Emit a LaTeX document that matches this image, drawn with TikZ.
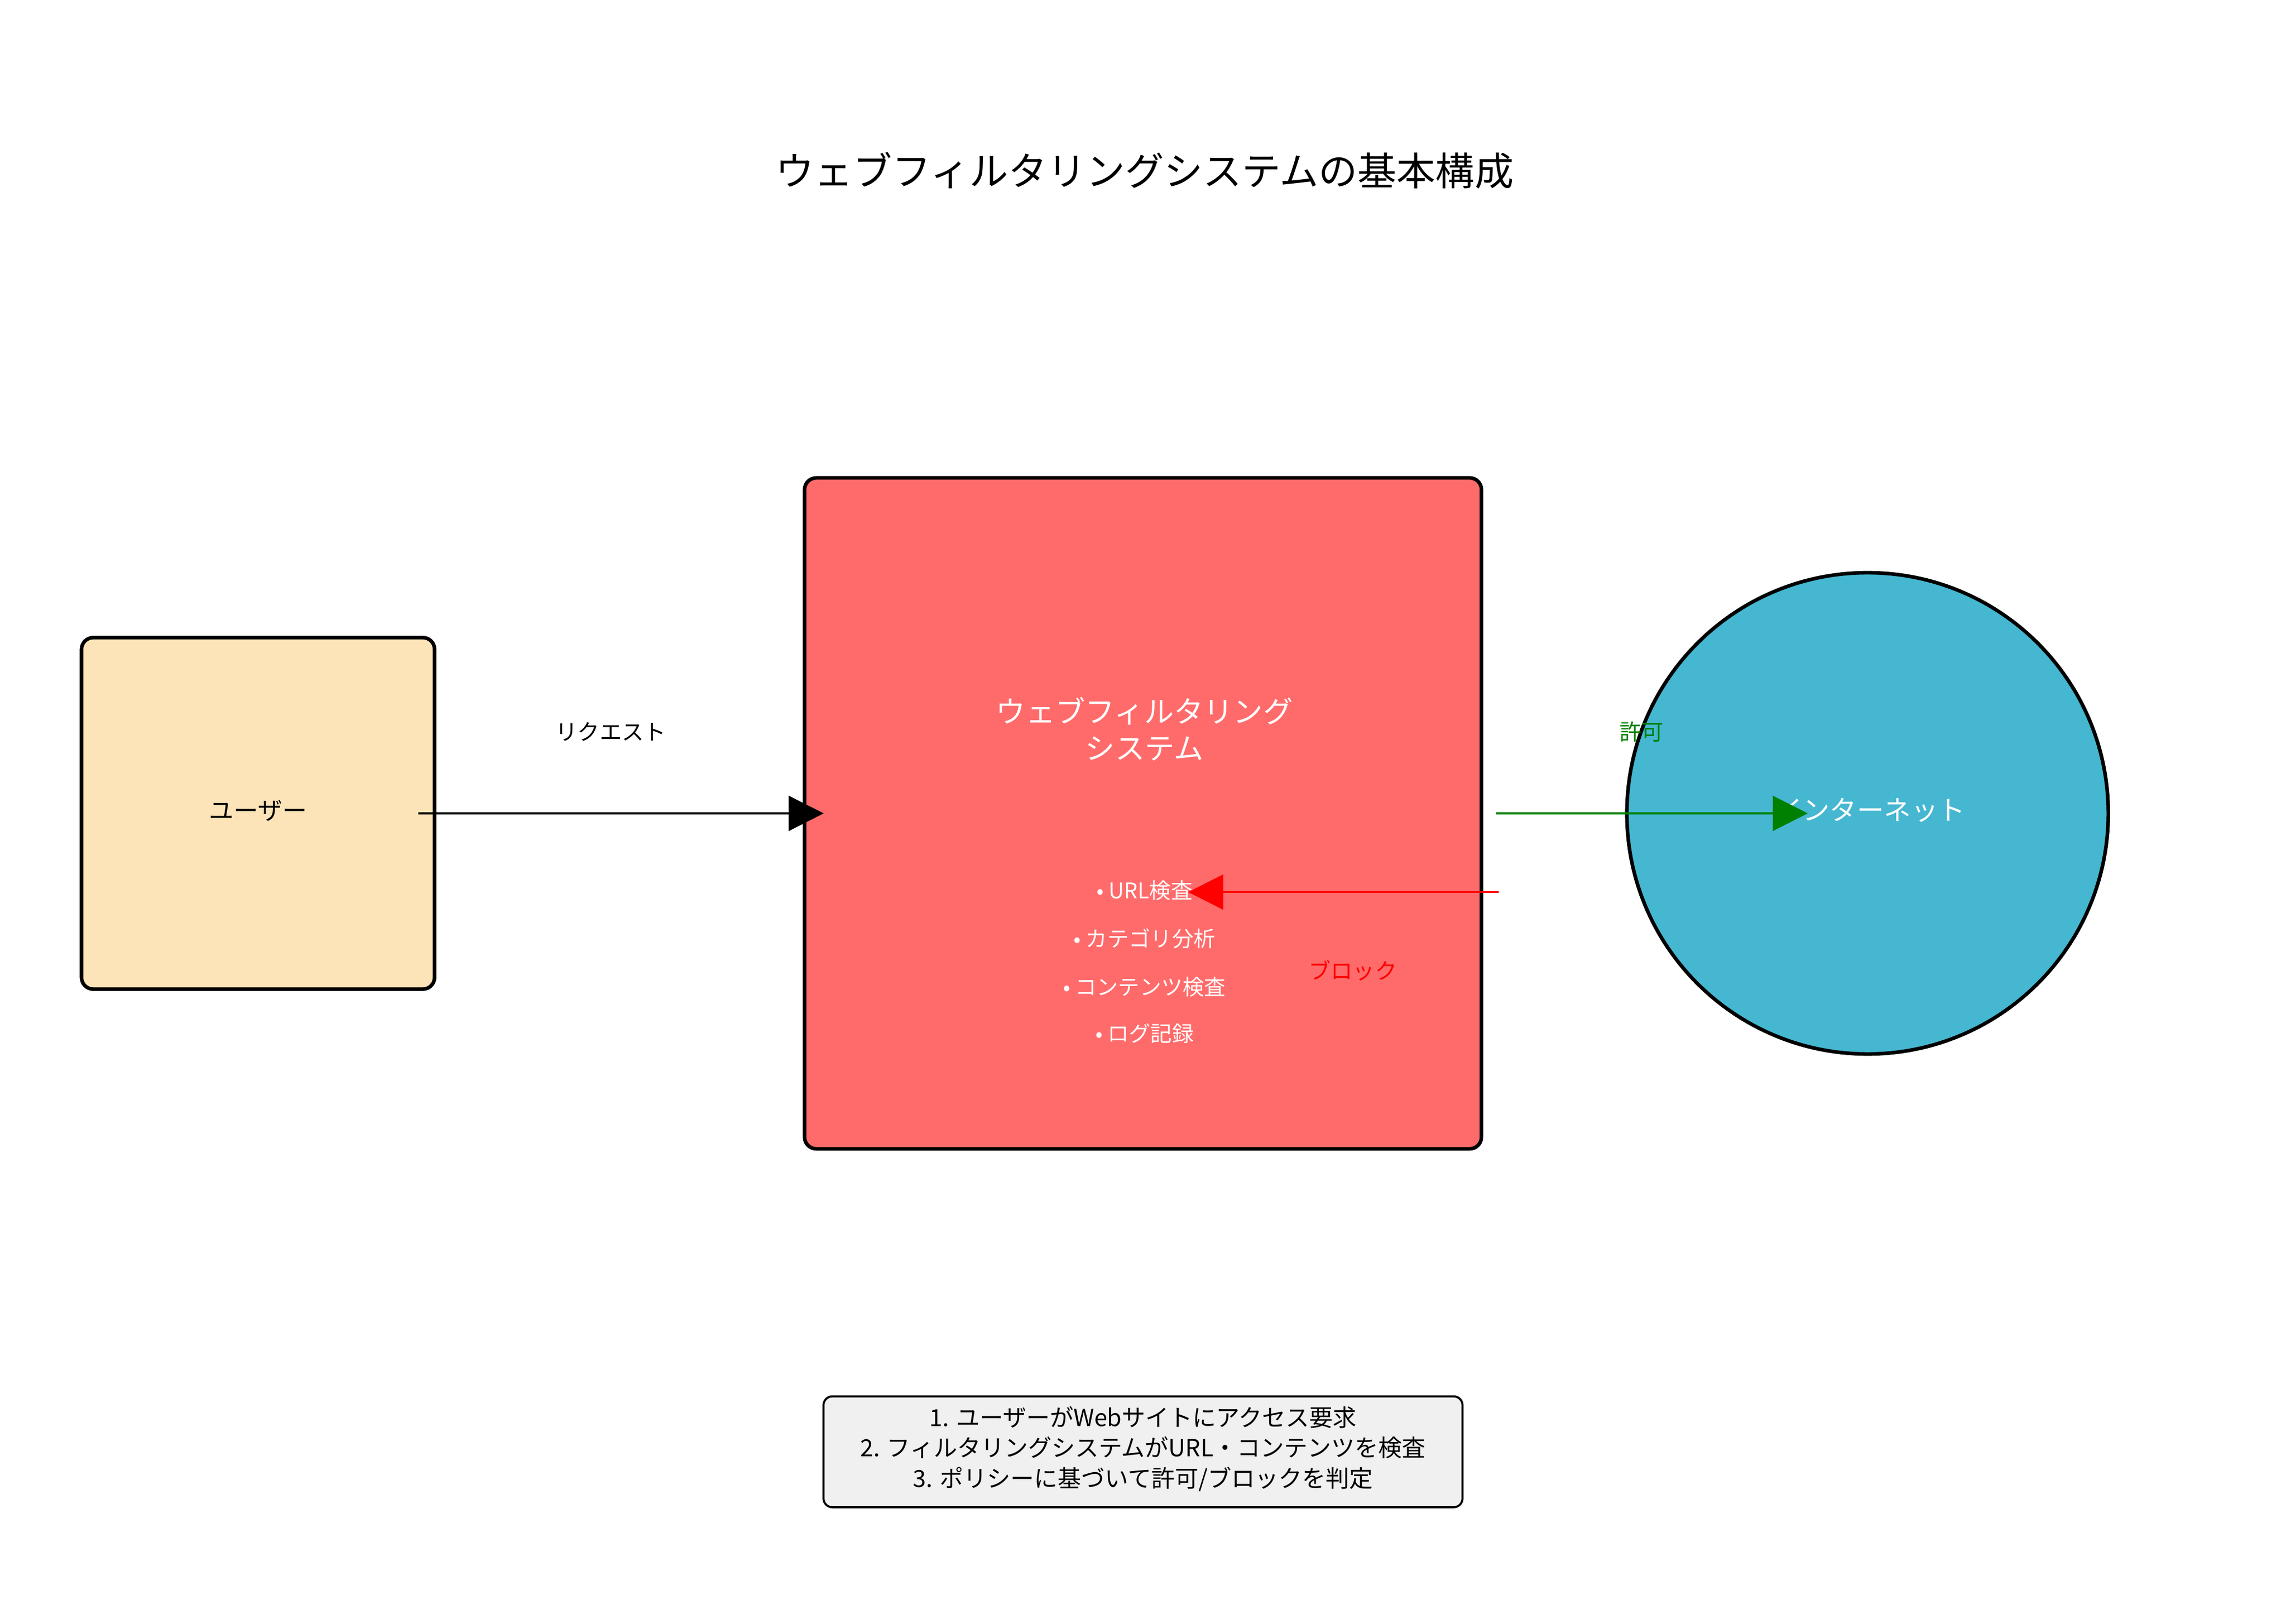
\documentclass[tikz,border=0pt]{standalone}
\usepackage{fontspec}
\setmainfont{Noto Sans CJK JP}
\usetikzlibrary{arrows.meta, positioning}
\definecolor{userfill}{HTML}{FDE4B8}
\definecolor{filterfill}{HTML}{FF6B6B}
\definecolor{netfill}{HTML}{45B7D1}
\definecolor{notefill}{HTML}{F0F0F0}
\definecolor{okgreen}{HTML}{008000}
\begin{document}
\begin{tikzpicture}
  [x=0.01cm, y=-0.01cm,
    >={Triangle[length=0.24cm, width=0.24cm]}]

  \tikzset{
    box/.style={
      rectangle, rounded corners=0.08cm,
      draw=black, line width=0.7pt,
      inner sep=0pt,
    },
    lbl/.style={font=\fontsize{4.3pt}{5pt}\selectfont},
    item/.style={font=\fontsize{4.2pt}{5pt}\selectfont, text=white},
    link/.style={->, line width=0.35pt},
  }

  \useasboundingbox (0,0) rectangle (1568,1114);

  \node[font=\fontsize{7.6pt}{9pt}\selectfont] (title) at (785,117) {ウェブフィルタリングシステムの基本構成};

  \node[box, fill=userfill, minimum width=2.42cm, minimum height=2.41cm] (user) at (177,558) {};
  \node[font=\fontsize{4.8pt}{6pt}\selectfont] (userlbl) at (177,556) {ユーザー};

  \node[box, fill=filterfill, minimum width=4.64cm, minimum height=4.60cm] (filter) at (784,558) {};
  \node[font=\fontsize{5.8pt}{7.2pt}\selectfont, text=white, align=center] (filterlbl) at (785,500) {ウェブフィルタリング\\システム};
  \node[item] (url) at (785,611) {• URL検査};
  \node[item] (cat) at (785,644) {• カテゴリ分析};
  \node[item] (cont) at (785,677) {• コンテンツ検査};
  \node[item] (log) at (785,709) {• ログ記録};

  \node[circle, draw=black, line width=0.7pt, fill=netfill, minimum size=3.30cm, inner sep=0pt] (net) at (1281,558) {};
  \node[font=\fontsize{5.3pt}{6pt}\selectfont, text=white] (netlbl) at (1283,556) {インターネット};

  % connectors
  \coordinate (reqA) at (287,558);
  \coordinate (reqB) at (565,558);
  \coordinate (okA) at (1026,558);
  \coordinate (okB) at (1240,558);
  \coordinate (blkA) at (1028,612);
  \coordinate (blkB) at (815,612);

  \draw[link] (reqA) -- (reqB);
  \node[lbl] (reqlbl) at (419,502) {リクエスト};
  \draw[link, okgreen] (okA) -- (okB);
  \node[lbl, text=okgreen] (oklbl) at (1126,502) {許可};
  \draw[link, red] (blkA) -- (blkB);
  \node[lbl, text=red] (blklbl) at (928,666) {ブロック};

  \node[box, rounded corners=0.06cm, line width=0.4pt, fill=notefill, minimum width=4.38cm, minimum height=0.76cm] (note) at (784,996) {};
  \node[font=\fontsize{4.6pt}{5.9pt}\selectfont, align=center] (notetxt) at (784,994)
    {1. ユーザーがWebサイトにアクセス要求\\2. フィルタリングシステムがURL・コンテンツを検査\\3. ポリシーに基づいて許可/ブロックを判定};
\end{tikzpicture}
\end{document}
